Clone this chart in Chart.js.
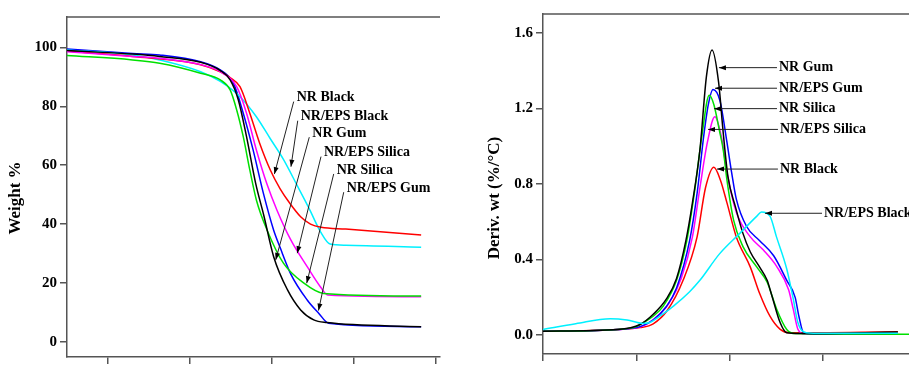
<!DOCTYPE html>
<html>
<head>
<meta charset="utf-8">
<script src="https://cdn.jsdelivr.net/npm/chart.js@4.4.0/dist/chart.umd.min.js"></script>
<style>
  html, body { margin: 0; padding: 0; background: #fff; }
  body { width: 909px; height: 369px; position: relative; overflow: hidden; }
  #tgaBox { position: absolute; left: 0; top: 0; width: 450px; height: 369px; }
  #dtgBox { position: absolute; left: 460px; top: 0; width: 449px; height: 369px; }
</style>
</head>
<body>
<div id="tgaBox"><canvas id="tgaChart" width="450" height="369"></canvas></div>
<div id="dtgBox"><canvas id="dtgChart" width="449" height="369"></canvas></div>
<script>
// TGA: temperature (°C) and residual weight (%)
const tgaNrGumT = [150, 230, 263, 313, 337, 349, 359, 369, 380, 390, 402, 419, 435, 451, 467, 582];
const tgaNrGumW = [99, 97.8, 97, 95, 92.2, 89, 82.2, 69.7, 54, 43, 29, 17.6, 10.8, 7.4, 6.5, 5.1];
const tgaEpsGumT = [150, 230, 263, 313, 337, 353, 365, 377, 389.5, 402, 410, 423, 443, 457, 469, 582];
const tgaEpsGumW = [99.5, 98, 97.5, 95.2, 92.4, 87.9, 77.7, 65.2, 50.5, 38, 32, 23, 14.2, 9.7, 6.3, 5.1];
const tgaNrSilicaT = [150, 230, 263, 313, 337, 349, 357, 365, 373, 381, 394, 414, 439, 463, 582];
const tgaNrSilicaW = [97.3, 95.8, 94.7, 91.3, 89, 85.6, 78.8, 69.7, 58.4, 48.2, 38, 26.7, 19.9, 16.4, 15.5];
const tgaEpsSilicaT = [150, 230, 263, 313, 337, 357, 369, 381, 394, 406, 423, 443, 459, 468, 582];
const tgaEpsSilicaW = [98.6, 97, 96.4, 94.2, 91.8, 86.7, 77.7, 65.2, 53.5, 44.8, 34.6, 25.5, 18.7, 15.9, 15.3];
const tgaNrBlackT = [150, 230, 313, 337, 349, 361, 373, 385, 398, 410, 422, 435, 447, 460, 490, 582];
const tgaNrBlackW = [98.8, 97, 94.2, 91.8, 89.8, 86.7, 77.7, 67.5, 58.4, 52, 47, 42.5, 40, 38.9, 38.3, 36.3];
const tgaEpsBlackT = [150, 230, 263, 313, 337, 361, 381, 398, 414, 431, 445, 459, 471, 490, 582];
const tgaEpsBlackW = [99.2, 97.5, 95.8, 91.8, 88.5, 83.3, 76.5, 69, 62, 53, 45.5, 37.5, 33.2, 32.8, 32.1];

// DTG: temperature (°C) and rate of weight loss (%/°C)
const dtgNrGumT = [200, 280, 304, 318, 332, 343, 353, 360, 368, 375, 381, 388, 393, 398, 406, 414, 422, 432, 440, 445, 454, 461, 475, 580];
const dtgNrGumD = [0.021, 0.03, 0.056, 0.11, 0.19, 0.3, 0.5, 0.7, 0.98, 1.37, 1.51, 1.34, 1.07, 0.84, 0.68, 0.54, 0.44, 0.36, 0.29, 0.21, 0.065, 0.012, 0.008, 0.016];
const dtgEpsGumT = [200, 280, 304, 318, 332, 343, 357, 365, 372, 377, 382, 389.5, 396.7, 402, 407, 418, 432, 447, 461, 470, 474, 479, 490, 580];
const dtgEpsGumD = [0.02, 0.03, 0.045, 0.08, 0.15, 0.25, 0.5, 0.75, 1.05, 1.22, 1.3, 1.24, 1.03, 0.86, 0.72, 0.575, 0.5, 0.42, 0.29, 0.2, 0.1, 0.013, 0.005, 0.005];
const dtgNrSilicaT = [200, 280, 300, 307, 318, 329, 343, 354, 362, 370, 378, 383, 389, 393, 397, 404, 414, 429, 440, 450, 461, 470, 592];
const dtgNrSilicaD = [0.02, 0.03, 0.045, 0.065, 0.1, 0.155, 0.29, 0.5, 0.75, 1.05, 1.27, 1.22, 1.08, 0.98, 0.82, 0.61, 0.47, 0.36, 0.28, 0.14, 0.03, 0.008, 0.005];
const dtgEpsSilicaT = [200, 280, 305, 320, 335, 348, 360, 368, 376, 384, 391, 397, 407, 422, 436, 450, 463, 468, 473, 480, 580];
const dtgEpsSilicaD = [0.02, 0.03, 0.045, 0.09, 0.17, 0.3, 0.52, 0.78, 1.02, 1.156, 1.05, 0.86, 0.65, 0.52, 0.45, 0.365, 0.24, 0.136, 0.03, 0.006, 0.005];
const dtgNrBlackT = [200, 280, 304, 318, 333, 350, 365, 374, 383, 390, 397, 407, 422, 432, 443, 454, 464, 580];
const dtgNrBlackD = [0.02, 0.03, 0.04, 0.06, 0.13, 0.29, 0.52, 0.78, 0.889, 0.82, 0.7, 0.52, 0.36, 0.22, 0.1, 0.03, 0.012, 0.018];
const dtgEpsBlackT = [200, 235, 272, 290, 307, 315, 325, 340, 357, 368, 389, 411, 429, 434, 443, 450, 461, 468, 473, 482, 500, 580];
const dtgEpsBlackD = [0.03, 0.06, 0.087, 0.08, 0.062, 0.068, 0.1, 0.155, 0.23, 0.29, 0.43, 0.54, 0.63, 0.652, 0.63, 0.52, 0.35, 0.19, 0.065, 0.013, 0.01, 0.01];

// axis ticks
const tgaTempTicks = [200, 300, 400, 500, 600];
const tgaWeightTicks = [0, 20, 40, 60, 80, 100];
const dtgTempTicks = [200, 300, 400, 500];
const dtgRateTicks = [0.0, 0.4, 0.8, 1.2, 1.6];

const axisColor = '#555';
const serif = "'Liberation Serif', 'Times New Roman', serif";

Chart.defaults.font.family = serif;

function toPoints(xs, ys) {
    return xs.map((x, i) => ({ x: x, y: ys[i] }));
}

function series(label, xs, ys, color) {
    return {
        label: label,
        data: toPoints(xs, ys),
        borderColor: color,
        borderWidth: 1.5,
        pointRadius: 0,
        fill: false,
        cubicInterpolationMode: 'monotone'
    };
}

// draws the top edge, the rotated y title and the arrowed sample labels
const framePlugin = {
    id: 'frame',
    afterDraw(chart, args, opts) {
        const ctx = chart.ctx;
        const area = chart.chartArea;
        const xs = chart.scales.x;
        const ys = chart.scales.y;

        ctx.save();
        ctx.strokeStyle = axisColor;
        ctx.lineWidth = 1.5;
        ctx.beginPath();
        ctx.moveTo(area.left, area.top);
        ctx.lineTo(area.right, area.top);
        ctx.stroke();

        ctx.fillStyle = '#000';
        ctx.font = 'bold 17px ' + serif;
        ctx.textAlign = 'center';
        ctx.textBaseline = 'middle';
        ctx.translate(opts.titleX, opts.titleY);
        ctx.rotate(-Math.PI / 2);
        ctx.fillText(opts.title, 0, 0);
        ctx.restore();

        ctx.save();
        ctx.font = 'bold 14px ' + serif;
        ctx.textAlign = 'left';
        ctx.textBaseline = 'middle';
        ctx.fillStyle = '#000';
        ctx.strokeStyle = '#222';
        ctx.lineWidth = 1;
        for (const note of opts.notes) {
            const lx = xs.getPixelForValue(note.at[0]);
            const ly = ys.getPixelForValue(note.at[1]);
            const hx = xs.getPixelForValue(note.head[0]);
            const hy = ys.getPixelForValue(note.head[1]);
            const tx = lx + opts.tailDx;
            const ty = ly + opts.tailDy;
            ctx.fillText(note.text, lx, ly);

            const ang = Math.atan2(hy - ty, hx - tx);
            ctx.beginPath();
            ctx.moveTo(tx, ty);
            ctx.lineTo(hx, hy);
            ctx.stroke();
            ctx.beginPath();
            ctx.moveTo(hx, hy);
            ctx.lineTo(hx - 7 * Math.cos(ang) + 2.5 * Math.sin(ang), hy - 7 * Math.sin(ang) - 2.5 * Math.cos(ang));
            ctx.lineTo(hx - 7 * Math.cos(ang) - 2.5 * Math.sin(ang), hy - 7 * Math.sin(ang) + 2.5 * Math.cos(ang));
            ctx.closePath();
            ctx.fill();
        }
        ctx.restore();
    }
};

function axisOptions(min, max, ticks, fmt, showLabels, size) {
    return {
        type: 'linear',
        min: min,
        max: max,
        afterBuildTicks: scale => { scale.ticks = ticks.map(v => ({ value: v })); },
        afterFit: scale => {
            if (scale.isHorizontal()) {
                scale.height = size;
                scale.paddingLeft = 0;
                scale.paddingRight = 0;
            } else {
                scale.width = size;
                scale.paddingTop = 0;
                scale.paddingBottom = 0;
            }
        },
        grid: { drawOnChartArea: false, drawTicks: true, tickLength: 7, color: axisColor, lineWidth: 1.5 },
        border: { display: true, color: axisColor, width: 1.5 },
        ticks: {
            display: showLabels,
            padding: 3,
            color: '#000',
            font: { size: 15, weight: 'bold', family: serif },
            callback: fmt
        }
    };
}

function makeChart(canvasId, datasets, scales, padding, frame) {
    return new Chart(document.getElementById(canvasId).getContext('2d'), {
        type: 'line',
        data: { datasets: datasets },
        options: {
            responsive: false,
            animation: false,
            devicePixelRatio: 1,
            layout: { padding: padding },
            scales: scales,
            plugins: {
                legend: { display: false },
                tooltip: { enabled: false },
                frame: frame
            }
        },
        plugins: [framePlugin]
    });
}

makeChart('tgaChart', [
    series('NR Gum', tgaNrGumT, tgaNrGumW, '#000000'),
    series('NR Silica', tgaNrSilicaT, tgaNrSilicaW, '#00e000'),
    series('NR/EPS Silica', tgaEpsSilicaT, tgaEpsSilicaW, '#ff00ff'),
    series('NR Black', tgaNrBlackT, tgaNrBlackW, '#ff0000'),
    series('NR/EPS Black', tgaEpsBlackT, tgaEpsBlackW, '#00f0ff'),
    series('NR/EPS Gum', tgaEpsGumT, tgaEpsGumW, '#0000ff')
], {
    x: axisOptions(150, 605, tgaTempTicks, v => v, false, 12),
    y: axisOptions(-5.2, 110.4, tgaWeightTicks, v => v, true, 67)
}, { top: 17, right: 10, left: 0, bottom: 0 }, {
    title: 'Weight %',
    titleX: 16,
    titleY: 198,
    tailDx: -3,
    tailDy: 4,
    notes: [
        { text: 'NR Black', at: [430.2, 83], head: [403, 57] },
        { text: 'NR/EPS Black', at: [435.1, 76.5], head: [423.2, 59.5] },
        { text: 'NR Gum', at: [449.2, 70.9], head: [404.6, 27.8] },
        { text: 'NR/EPS Silica', at: [463.5, 64.3], head: [430.9, 30.1] },
        { text: 'NR Silica', at: [479, 58.4], head: [442.4, 19.9] },
        { text: 'NR/EPS Gum', at: [491.2, 52.2], head: [456.8, 10.6] }
    ]
});

makeChart('dtgChart', [
    series('NR/EPS Black', dtgEpsBlackT, dtgEpsBlackD, '#00f0ff'),
    series('NR Gum', dtgNrGumT, dtgNrGumD, '#000000'),
    series('NR Silica', dtgNrSilicaT, dtgNrSilicaD, '#00e000'),
    series('NR/EPS Gum', dtgEpsGumT, dtgEpsGumD, '#0000ff'),
    series('NR/EPS Silica', dtgEpsSilicaT, dtgEpsSilicaD, '#ff00ff'),
    series('NR Black', dtgNrBlackT, dtgNrBlackD, '#ff0000')
], {
    x: axisOptions(200, 591.9, dtgTempTicks, v => v, false, 15),
    y: axisOptions(-0.1, 1.7, dtgRateTicks, v => v.toFixed(1), true, 83)
}, { top: 14, right: 0, left: 0, bottom: 0 }, {
    title: 'Deriv. wt (%/°C)',
    titleX: 35,
    titleY: 198,
    tailDx: -2,
    tailDy: 0,
    notes: [
        { text: 'NR Gum', at: [452.7, 1.416], head: [388.4, 1.416] },
        { text: 'NR/EPS Gum', at: [452.7, 1.307], head: [384.2, 1.307] },
        { text: 'NR Silica', at: [452.7, 1.199], head: [383.1, 1.199] },
        { text: 'NR/EPS Silica', at: [453.7, 1.089], head: [376.7, 1.089] },
        { text: 'NR Black', at: [453.7, 0.879], head: [386.3, 0.879] },
        { text: 'NR/EPS Black', at: [500.9, 0.645], head: [437.7, 0.645] }
    ]
});
</script>
</body>
</html>
